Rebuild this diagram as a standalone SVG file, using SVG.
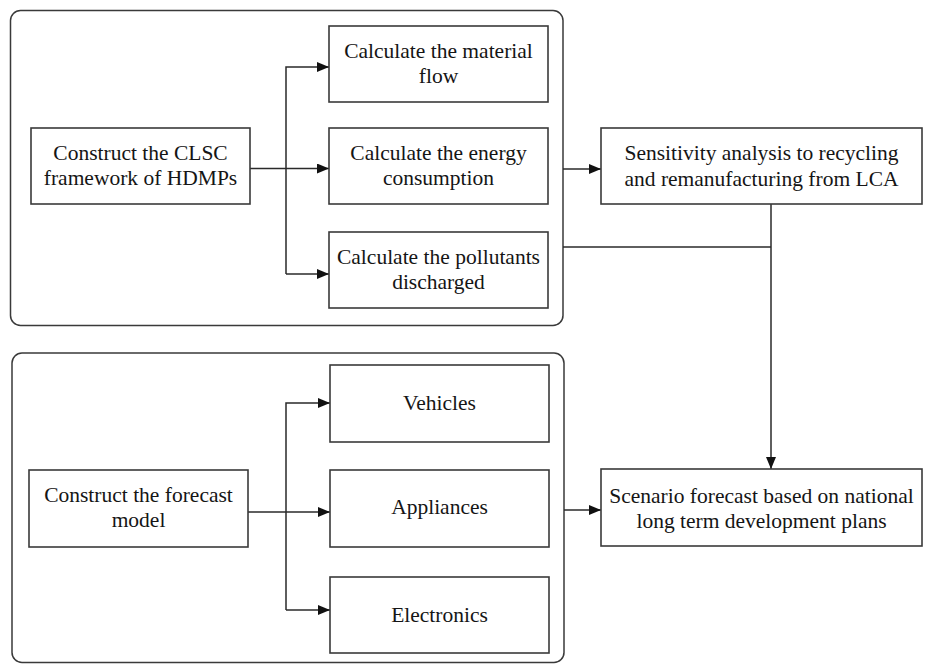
<svg xmlns="http://www.w3.org/2000/svg" width="925" height="664" viewBox="0 0 925 664">
<style>
.grp{fill:none;stroke:#3a3a3a;stroke-width:1.5}
.box{fill:#fff;stroke:#3a3a3a;stroke-width:1.6}
.t{font-family:"Liberation Serif","Times New Roman",serif;font-size:21.5px;fill:#151515;text-anchor:middle}
.c{fill:none;stroke:#2a2a2a;stroke-width:1.5}
</style>
<defs>
<marker id="ah" markerWidth="12" markerHeight="10" refX="12" refY="5" orient="auto" markerUnits="userSpaceOnUse">
<path d="M0,0 L12,5 L0,10 Z" fill="#111"/>
</marker>
</defs>
<rect width="925" height="664" fill="#fff"/>
<g id="group-top"><rect class="grp" x="10.5" y="10.5" width="552.5" height="315" rx="10"/></g>
<g id="group-bottom"><rect class="grp" x="12" y="353" width="552" height="309.5" rx="10"/></g>

<g id="connectors">
<path class="c" d="M250,168.5 H329" marker-end="url(#ah)"/>
<path class="c" d="M286,274 V67 H329" marker-end="url(#ah)"/>
<path class="c" d="M286,274 H329" marker-end="url(#ah)"/>
<path class="c" d="M563,169 H601" marker-end="url(#ah)"/>
<path class="c" d="M563,247 H771"/>
<path class="c" d="M771,204 V469" marker-end="url(#ah)"/>
<path class="c" d="M248,512 H330" marker-end="url(#ah)"/>
<path class="c" d="M286,610 V403 H330" marker-end="url(#ah)"/>
<path class="c" d="M286,610 H330" marker-end="url(#ah)"/>
<path class="c" d="M564,510 H601" marker-end="url(#ah)"/>
</g>

<g id="clsc"><rect class="box" x="31" y="128" width="219" height="76"/>
<text class="t" x="140.5" y="160">Construct the CLSC</text>
<text class="t" x="140.5" y="185">framework of HDMPs</text></g>

<g id="material"><rect class="box" x="329" y="26" width="219" height="76"/>
<text class="t" x="438.5" y="58">Calculate the material</text>
<text class="t" x="438.5" y="83">flow</text></g>

<g id="energy"><rect class="box" x="329" y="128" width="219" height="76"/>
<text class="t" x="438.5" y="160">Calculate the energy</text>
<text class="t" x="438.5" y="185">consumption</text></g>

<g id="pollutants"><rect class="box" x="329" y="232" width="219" height="76"/>
<text class="t" x="438.5" y="264">Calculate the pollutants</text>
<text class="t" x="438.5" y="289">discharged</text></g>

<g id="sensitivity"><rect class="box" x="601" y="128" width="321" height="76"/>
<text class="t" x="761.5" y="160">Sensitivity analysis to recycling</text>
<text class="t" x="761.5" y="186">and remanufacturing from LCA</text></g>

<g id="forecast"><rect class="box" x="29" y="470" width="219" height="77"/>
<text class="t" x="138.5" y="502">Construct the forecast</text>
<text class="t" x="138.5" y="527">model</text></g>

<g id="vehicles"><rect class="box" x="330" y="365" width="219" height="77"/>
<text class="t" x="439.5" y="410">Vehicles</text></g>

<g id="appliances"><rect class="box" x="330" y="470" width="219" height="77"/>
<text class="t" x="439.5" y="514">Appliances</text></g>

<g id="electronics"><rect class="box" x="330" y="577" width="219" height="76"/>
<text class="t" x="439.5" y="621.5">Electronics</text></g>

<g id="scenario"><rect class="box" x="601" y="469" width="321" height="77"/>
<text class="t" x="761.5" y="503">Scenario forecast based on national</text>
<text class="t" x="761.5" y="528">long term development plans</text></g>
</svg>
